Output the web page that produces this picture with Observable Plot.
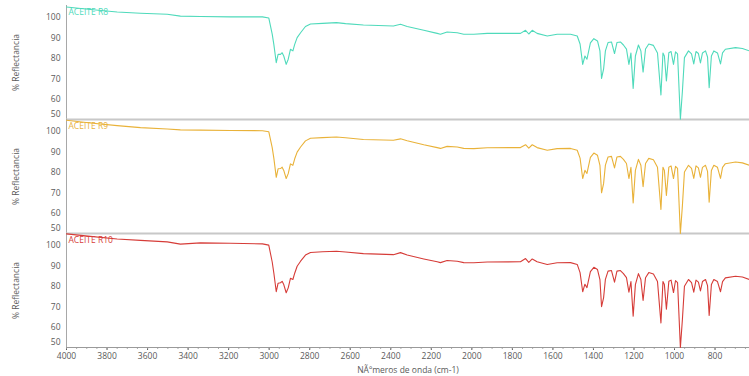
<!DOCTYPE html>
<html>
<head>
<meta charset="utf-8">
<script src="https://cdn.jsdelivr.net/npm/d3@7"></script>
<script src="https://cdn.jsdelivr.net/npm/@observablehq/plot@0.6"></script>
<style>
  html, body { margin: 0; padding: 0; background: #ffffff; }
  #chart { width: 749px; height: 376px; position: relative; overflow: hidden; }
  #chart svg { display: block; }
</style>
</head>
<body>
<div id="chart"></div>
<script>
// ---- data ----
const seriesNames = ["ACEITE R8", "ACEITE R9", "ACEITE R10"];
const seriesColors = ["#4fdabb", "#e9b239", "#d63c38"];

const wavenumbers = [4000, 3882, 3750, 3635, 3503, 3438, 3339, 3191, 3033, 3002,
  2985, 2977, 2965, 2956, 2944, 2936, 2928, 2916, 2906, 2895,
  2883, 2874, 2862, 2845, 2821, 2796, 2737, 2668, 2623, 2535,
  2387, 2352, 2319, 2237, 2171, 2155, 2122, 2072, 2040, 1990,
  1924, 1760, 1735, 1719, 1702, 1678, 1628, 1579, 1513, 1480,
  1466, 1453, 1442, 1432, 1415, 1398, 1380, 1368, 1360, 1350,
  1341, 1328, 1311, 1296, 1284, 1267, 1252, 1237, 1225, 1215,
  1204, 1193, 1178, 1166, 1155, 1143, 1127, 1104, 1084, 1067,
  1057, 1050, 1040, 1028, 1017, 1005, 995, 985, 971, 961,
  951, 931, 916, 905, 894, 882, 872, 862, 847, 837,
  829, 818, 806, 788, 773, 763, 749, 699, 665, 630];

const reflR8 = [105.3, 104.0, 102.8, 102.2, 101.7, 100.8, 100.6, 100.4, 100.4, 99.9,
  91.9, 86.9, 77.9, 82.0, 82.0, 82.8, 81.2, 77.1, 79.6, 84.5,
  83.7, 86.9, 90.2, 92.6, 95.7, 96.9, 97.2, 97.6, 97.1, 96.4,
  95.9, 96.8, 95.7, 93.8, 92.3, 91.9, 93.0, 92.6, 91.9, 91.9,
  92.3, 92.3, 93.8, 92.0, 93.8, 92.3, 91.0, 91.9, 91.9, 91.0,
  87.1, 77.1, 81.2, 79.6, 87.6, 89.7, 88.6, 83.7, 70.2, 74.7,
  83.7, 87.8, 88.1, 82.4, 87.8, 88.1, 86.6, 84.6, 77.1, 82.7,
  65.3, 81.2, 86.6, 83.7, 73.3, 84.6, 87.1, 86.4, 82.7, 62.0,
  82.7, 81.2, 68.9, 82.8, 83.4, 77.1, 83.2, 82.2, 50.1, 64.0,
  80.4, 83.7, 82.2, 77.3, 83.4, 82.4, 77.8, 82.7, 83.7, 80.7,
  65.6, 81.2, 83.7, 82.7, 77.3, 82.7, 84.5, 85.3, 84.9, 83.7];

const reflR9 = [105.6, 104.3, 103.0, 102.0, 101.3, 100.9, 100.8, 100.6, 100.5, 100.0,
  92.2, 87.0, 77.6, 81.8, 81.9, 82.6, 81.0, 77.0, 79.4, 84.2,
  83.5, 86.7, 90.0, 92.5, 95.5, 96.8, 97.1, 97.4, 97.0, 96.2,
  95.8, 96.5, 95.6, 93.6, 92.2, 91.8, 92.8, 92.5, 91.8, 91.7,
  92.1, 92.2, 93.6, 91.9, 93.6, 92.2, 90.9, 91.7, 91.8, 90.9,
  87.0, 77.0, 81.0, 79.5, 87.4, 89.5, 88.4, 83.5, 70.0, 74.5,
  83.6, 87.6, 87.9, 82.2, 87.6, 87.9, 86.4, 84.4, 77.0, 82.5,
  65.0, 81.0, 86.4, 83.5, 73.0, 84.4, 86.9, 86.2, 82.5, 61.8,
  82.5, 81.0, 68.7, 82.6, 83.2, 77.0, 83.0, 82.0, 50.0, 63.8,
  80.2, 83.5, 82.0, 77.1, 83.2, 82.2, 77.6, 82.5, 83.5, 80.5,
  65.4, 81.0, 83.5, 82.5, 77.1, 82.5, 84.3, 85.1, 84.7, 83.5];

const reflR10 = [105.8, 104.6, 103.3, 102.6, 101.9, 100.8, 101.4, 101.2, 100.9, 100.3,
  92.0, 86.6, 77.4, 81.6, 81.8, 82.5, 80.9, 76.9, 79.3, 84.0,
  83.4, 86.5, 89.9, 92.4, 95.4, 96.7, 97.0, 97.3, 96.9, 96.1,
  95.6, 96.6, 95.4, 93.5, 92.1, 91.7, 92.7, 92.4, 91.7, 91.6,
  92.0, 92.1, 93.7, 91.8, 93.5, 92.1, 90.8, 91.6, 91.7, 90.8,
  86.8, 77.4, 81.1, 79.4, 87.3, 89.4, 88.3, 83.4, 70.1, 74.4,
  83.5, 87.5, 87.8, 82.1, 87.5, 87.8, 86.3, 84.3, 77.2, 82.4,
  65.4, 80.9, 86.3, 83.4, 73.1, 84.3, 86.8, 86.1, 82.4, 62.1,
  82.4, 80.9, 68.8, 82.5, 83.1, 77.0, 82.9, 81.9, 50.0, 63.9,
  80.1, 83.4, 81.9, 77.2, 83.1, 82.1, 77.8, 82.4, 83.4, 80.4,
  65.7, 80.9, 83.4, 82.4, 77.4, 82.4, 84.2, 85.0, 84.6, 83.4];

const xTicks = [4000, 3800, 3600, 3400, 3200, 3000, 2800, 2600, 2400, 2200, 2000, 1800, 1600, 1400, 1200, 1000, 800];
const xMinorTicks = d3.range(4000, 649, -50);
const yTicks = [60, 70, 80, 90, 100];
const yBottomTick = [50];
const xTitle = "NÃºmeros de onda (cm-1)";
const yTitle = "% Reflectancia";

// ---- build ----
const seriesValues = [reflR8, reflR9, reflR10];
const heights = [119, 114, 143];
const tops = [5, 0, 0];
const bottoms = [0, 0, 29];
const chart = document.getElementById("chart");

seriesNames.forEach((name, i) => {
  const data = wavenumbers.map((w, k) => ({wn: w, v: seriesValues[i][k]}));
  const last = i === 2;
  const svg = Plot.plot({
    width: 749,
    height: heights[i],
    marginLeft: 66,
    marginRight: 0,
    marginTop: tops[i],
    marginBottom: bottoms[i],
    style: {fontFamily: "'Open Sans', 'Liberation Sans', sans-serif", fontSize: "8.5px", color: "#5a5a5a", background: "transparent", overflow: "visible"},
    x: {
      domain: [4000, 630],
      ticks: xTicks,
      tickFormat: "d",
      tickSize: last ? 3 : 0,
      tickPadding: 2,
      axis: last ? "bottom" : null,
      label: last ? xTitle : null,
      labelArrow: "none",
      labelAnchor: "center",
      labelOffset: 25
    },
    y: {
      domain: [50, 106],
      ticks: yTicks,
      tickSize: 0,
      tickPadding: 6,
      label: yTitle,
      labelArrow: "none",
      labelAnchor: "center",
      labelOffset: 54
    },
    marks: [
      Plot.ruleX([4000], {stroke: "#a8a8a8", strokeWidth: 1}),
      Plot.ruleY([50], {stroke: last ? "#9a9a9a" : "#c8c8c8", strokeWidth: last ? 1 : 2}),
      last ? Plot.ruleX(xMinorTicks, {x: d => d, y1: 50, y2: 49.1, stroke: "#9a9a9a"}) : null,
      Plot.line(data, {x: "wn", y: "v", stroke: seriesColors[i], strokeWidth: 1.1}),
      Plot.text([name], {frameAnchor: "top-left", dx: 2, dy: 3, fill: seriesColors[i], fontSize: 8.5, textAnchor: "start", lineAnchor: "top"}),
      Plot.text(yBottomTick, {y: d => d, text: d => String(d), frameAnchor: "left", textAnchor: "end", dx: -6, dy: -5, fill: "#5a5a5a"})
    ]
  });
  chart.appendChild(svg);
});
</script>
</body>
</html>
